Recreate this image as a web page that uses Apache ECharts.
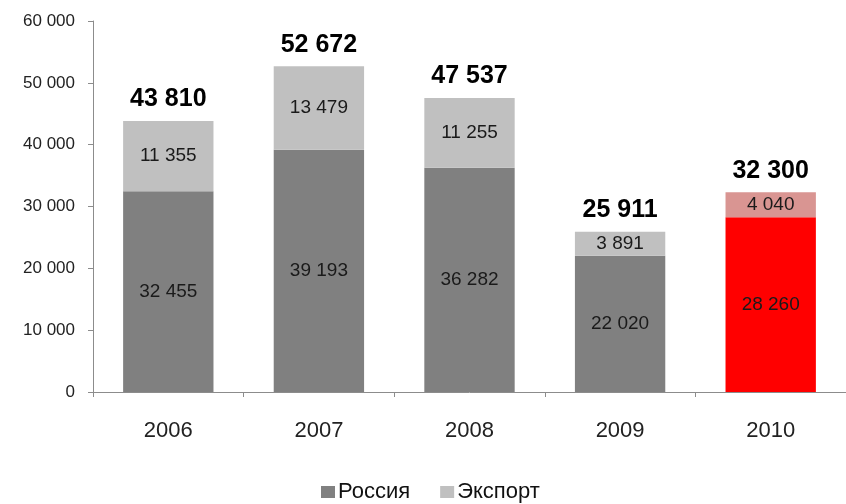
<!DOCTYPE html>
<html>
<head>
<meta charset="utf-8">
<script src="https://cdn.jsdelivr.net/npm/echarts@6/dist/echarts.min.js"></script>
<style>
  html, body { margin: 0; padding: 0; background: #fff; }
  #chart { width: 846px; height: 504px; }
</style>
</head>
<body>
<div id="chart"></div>
<script>
// Production by year: domestic (Россия) and export volumes
const years = ['2006', '2007', '2008', '2009', '2010'];
const russia = [32455, 39193, 36282, 22020, 28260];
const exportVals = [11355, 13479, 11255, 3891, 4040];
const yTicks = [0, 10000, 20000, 30000, 40000, 50000, 60000];

const FONT = '"Liberation Sans", Arial, sans-serif';
const fmt = v => String(Math.round(v)).replace(/\B(?=(\d{3})+(?!\d))/g, ' ');

const totals = years.map((_, i) => russia[i] + exportVals[i]);
const last = years.length - 1;

const russiaData = russia.map((v, i) => i === last
  ? { value: v, itemStyle: { color: '#ff0000' } }
  : v);
const exportData = exportVals.map((v, i) => i === last
  ? { value: v, itemStyle: { color: '#d99592' } }
  : v);

const segLabel = {
  show: true,
  position: 'inside',
  fontFamily: FONT,
  fontSize: 19,
  color: '#1a1a1a',
  formatter: p => fmt(p.value)
};

const chart = echarts.init(document.getElementById('chart'), null, { renderer: 'canvas' });
chart.setOption({
  animation: false,
  backgroundColor: '#ffffff',
  textStyle: { fontFamily: FONT },
  grid: { left: 93, right: -4, top: 21, bottom: 112 },
  legend: {
    top: 476,
    left: 316,
    itemWidth: 14,
    itemHeight: 12,
    itemGap: 30,
    icon: 'rect',
    textStyle: { fontFamily: FONT, fontSize: 22, color: '#111', padding: [0, 0, 0, -2] },
    data: ['Россия', 'Экспорт']
  },
  xAxis: {
    type: 'category',
    data: years,
    axisLine: { lineStyle: { color: '#8c8c8c', width: 1 } },
    axisTick: { show: true, length: 5, lineStyle: { color: '#8c8c8c' } },
    axisLabel: { fontFamily: FONT, fontSize: 22, color: '#222', margin: 28 }
  },
  yAxis: {
    type: 'value',
    min: yTicks[0],
    max: yTicks[yTicks.length - 1],
    interval: yTicks[1] - yTicks[0],
    axisLine: { show: true, lineStyle: { color: '#8c8c8c', width: 1 } },
    axisTick: { show: true, length: 5, lineStyle: { color: '#8c8c8c' } },
    splitLine: { show: false },
    axisLabel: { fontFamily: FONT, fontSize: 17, color: '#222', margin: 18, formatter: fmt }
  },
  series: [
    {
      name: 'Россия',
      type: 'bar',
      stack: 'total',
      barWidth: '60%',
      itemStyle: { color: '#808080' },
      label: segLabel,
      data: russiaData
    },
    {
      name: 'Экспорт',
      type: 'bar',
      stack: 'total',
      barWidth: '60%',
      itemStyle: { color: '#c0c0c0' },
      label: segLabel,
      data: exportData
    },
    {
      // Zero-height series on top of each stack, carrying the yearly total
      name: 'Итого',
      type: 'bar',
      stack: 'total',
      barWidth: '60%',
      silent: true,
      itemStyle: { color: 'transparent' },
      label: {
        show: true,
        position: 'insideBottom',
        distance: 9,
        fontFamily: FONT,
        fontSize: 25,
        fontWeight: 'bold',
        color: '#000',
        formatter: p => fmt(totals[p.dataIndex])
      },
      data: years.map(() => 0.0001)
    }
  ]
});
</script>
</body>
</html>
